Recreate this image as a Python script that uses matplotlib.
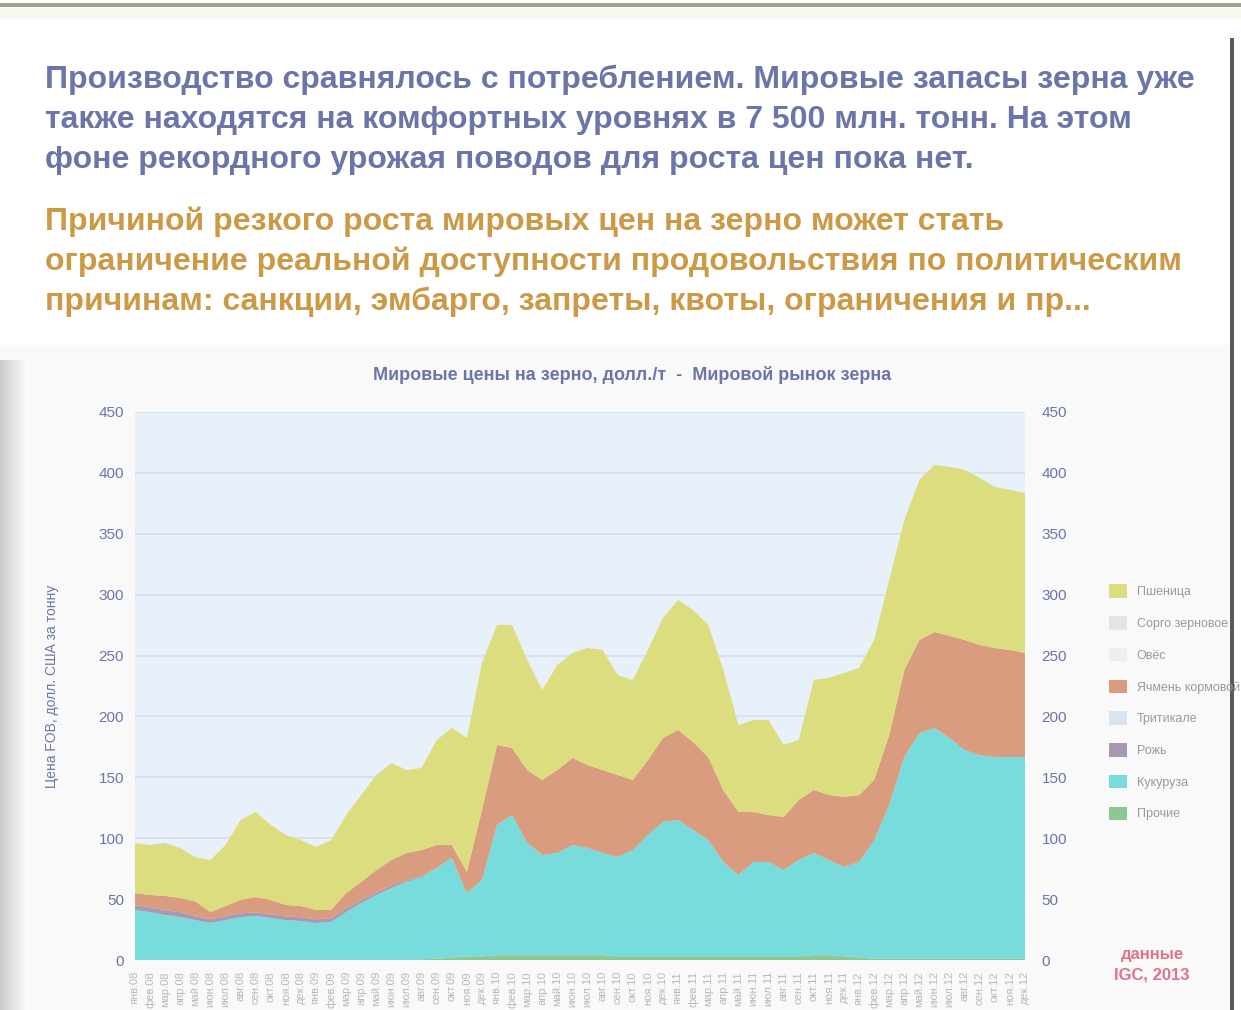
import matplotlib
matplotlib.use('Agg')
import matplotlib.pyplot as plt
from matplotlib.patches import Rectangle
import numpy as np

# --- data, stacked bottom -> top ---
months = ['янв', 'фев', 'мар', 'апр', 'май', 'июн', 'июл', 'авг', 'сен', 'окт', 'ноя', 'дек']
years = ['08', '09', '10', '11', '12']
period_labels = [f'{m}.{y}' for y in years for m in months]

series_names = ['Прочие', 'Кукуруза', 'Рожь', 'Тритикале', 'Ячмень кормовой', 'Овёс', 'Сорго зерновое', 'Пшеница']

other = [0.5, 0.5, 0.5, 0.5, 0.5, 0.5, 0.5, 0.5, 0.5, 0.5, 0.5, 0.5, 0.5, 0.5, 0.5, 0.5, 0.5, 0.5, 0.5, 0.5,
         1, 2, 3, 3, 4, 4, 4, 4, 4, 4, 4, 4, 3, 3, 3, 3, 3, 3, 3, 3,
         3, 3, 3, 3, 3, 4, 4, 3, 2, 1, 1, 1, 1, 1, 1, 1, 1, 1, 1, 1]
corn = [40.5, 38.9, 36.5, 34.8, 32.3, 29.9, 32.3, 34.8, 35.6, 34.0, 32.3, 31.5, 29.9, 30.7, 38.9, 46.3, 52.9, 58.6, 63.6, 67.7,
        74.6, 81.8, 52.0, 62.7, 106.9, 115.1, 92.1, 82.2, 83.9, 90.4, 88.0, 83.9, 81.6, 87.3, 99.7, 110.3, 112.0, 103.8, 95.5, 77.5,
        66.8, 77.5, 77.5, 70.9, 79.1, 83.9, 78.1, 73.4, 78.5, 97.5, 126.3, 165.7, 185.4, 189.5, 181.3, 171.4, 167.3, 165.7, 165.7, 165.7]
rye = [4, 4, 4, 4, 3, 3, 3, 3, 3, 3, 3, 3, 3, 3, 3, 2, 2, 2, 1, 1,
       0, 0, 0, 0, 0, 0, 0, 0, 0, 0, 0, 0, 0, 0, 0, 0, 0, 0, 0, 0,
       0, 0, 0, 0, 0, 0, 0, 0, 0, 0, 0, 0, 0, 0, 0, 0, 0, 0, 0, 0]
triticale = [0] * 60
barley = [9.9, 10.0, 11.6, 11.6, 12.3, 6.0, 8.5, 11.0, 12.6, 11.8, 9.4, 9.3, 7.7, 6.9, 12.6, 15.3, 18.5, 21.0, 22.8, 21.1,
          18.8, 10.6, 17.3, 57.5, 65.7, 55.0, 59.9, 61.6, 68.1, 71.5, 68.1, 68.1, 67.3, 57.5, 61.5, 69.0, 73.9, 72.2, 68.2, 59.1,
          51.7, 41.0, 38.6, 43.5, 49.3, 51.7, 53.4, 57.5, 55.0, 49.3, 57.5, 71.4, 76.4, 78.9, 83.8, 90.4, 90.4, 89.5, 87.9, 85.4]
oats = [0] * 60
sorghum = [0] * 60
wheat = [41.1, 41.0, 43.5, 41.1, 36.2, 42.7, 50.1, 65.7, 69.8, 61.6, 57.5, 54.2, 51.7, 57.4, 64.1, 71.4, 78.0, 79.7, 68.1, 67.4,
         86.3, 96.1, 110.0, 120.7, 98.5, 101.0, 90.4, 73.9, 86.3, 86.2, 96.1, 98.6, 82.1, 82.1, 90.4, 98.6, 106.7, 108.4, 108.4, 98.5,
         71.5, 75.6, 78.0, 59.2, 49.3, 90.3, 96.1, 101.8, 104.3, 115.0, 127.3, 123.2, 131.4, 137.1, 138.8, 139.6, 137.1, 132.2, 131.4, 131.4]

series_values = [other, corn, rye, triticale, barley, oats, sorghum, wheat]
series_colors = ['#8cc894', '#78dcdc', '#a898b0', '#d8e4f0', '#d99c7e', '#eeeeee', '#e4e4e4', '#dcdd7e']

yticks = [0, 50, 100, 150, 200, 250, 300, 350, 400, 450]

# --- figure ---
W, H = 1241, 1010
fig = plt.figure(figsize=(W / 100, H / 100), dpi=100)
fig.patch.set_facecolor('white')


def px(x, y):
    return x / W, 1 - y / H


def band(x0, y0, w, h, color, z=-10):
    # rectangle in pixel units (top-left corner), drawn on the figure
    fig.add_artist(Rectangle(px(x0, y0 + h), w / W, h / H, transform=fig.transFigure,
                             color=color, lw=0, zorder=z))


# slide frame: olive rule at the top, chart panel, shadows
band(0, 3, W, 4, '#9ca28c')
band(0, 7, W, 12, '#f7fbef')
band(0, 345, 1232, H - 345, '#f9f9f9')
for i in range(14):
    g = 0.80 + i * 0.014
    band(i * 2, 360, 2, H - 360, (g, g, g))
band(1230, 38, 4, H - 38, '#5a5a5a', z=5)

# text block
blue = '#6b75a8'
gold = '#cc9a46'
font = ['Liberation Sans', 'DejaVu Sans']
top_lines = ['Производство сравнялось с потреблением. Мировые запасы зерна уже',
             'также находятся на комфортных уровнях в 7 500 млн. тонн. На этом',
             'фоне рекордного урожая поводов для роста цен пока нет.']
gold_lines = ['Причиной резкого роста мировых цен на зерно может стать',
              'ограничение реальной доступности продовольствия по политическим',
              'причинам: санкции, эмбарго, запреты, квоты, ограничения и пр...']
for k, line in enumerate(top_lines):
    fig.text(*px(45, 80 + 40 * k), line, fontsize=23, fontweight='bold', color=blue,
             family=font, va='center', ha='left')
for k, line in enumerate(gold_lines):
    fig.text(*px(45, 222 + 40 * k), line, fontsize=23, fontweight='bold', color=gold,
             family=font, va='center', ha='left')

fig.text(*px(632, 375), 'Мировые цены на зерно, долл./т  -  Мировой рынок зерна',
         fontsize=13, fontweight='bold', color=blue, family=font, ha='center', va='center')

# chart
ax = fig.add_axes([135 / W, 50 / H, 890 / W, 548 / H])
x = np.arange(len(wheat))
ax.set_facecolor('#e8f0fa')
ax.stackplot(x, *series_values, colors=series_colors, labels=series_names, lw=0)
ax.set_xlim(0, len(wheat) - 1)
ax.set_ylim(0, 450)
ax.set_yticks(yticks)
ax.set_yticklabels([str(v) for v in yticks], fontsize=11, color=blue, family=font)
ax.yaxis.grid(True, color='#d6dfee', lw=1.2)
ax.set_axisbelow(True)
ax.set_xticks(x)
ax.set_xticklabels(period_labels, rotation=90, fontsize=8, color='#b8b8b8', family=font)
ax.tick_params(length=0, pad=8)
for s in ax.spines.values():
    s.set_visible(False)
ax.set_ylabel('Цена FOB, долл. США за тонну', fontsize=10, color=blue, family=font, labelpad=28)

ax2 = ax.twinx()
ax2.set_ylim(0, 450)
ax2.set_yticks(yticks)
ax2.set_yticklabels([str(v) for v in yticks], fontsize=11, color=blue, family=font)
ax2.tick_params(length=0, pad=12)
for s in ax2.spines.values():
    s.set_visible(False)

handles, labels = ax.get_legend_handles_labels()
fig.legend(handles[::-1], labels[::-1], loc='upper left', bbox_to_anchor=px(1098, 573),
           frameon=False, labelcolor='#9a9a9a', handlelength=1.4, handleheight=1.3,
           labelspacing=1.42, prop={'family': font, 'size': 9})

fig.text(*px(1152, 965), 'данные\nIGC, 2013', fontsize=12, fontweight='bold', color='#de7389',
         family=font, ha='center', va='center', linespacing=1.5)

fig.savefig('out.png', dpi=100, facecolor='white')
